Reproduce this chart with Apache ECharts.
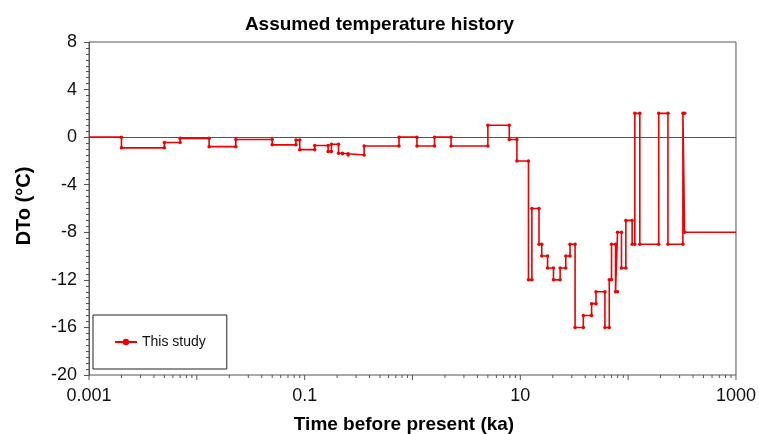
<!DOCTYPE html>
<html>
<head>
<meta charset="utf-8">
<script src="https://cdn.jsdelivr.net/npm/echarts@6/dist/echarts.min.js"></script>
<style>
html,body{margin:0;padding:0;background:#fff;}
#chart{width:759px;height:434px;}
</style>
</head>
<body>
<div id="chart"></div>
<script>
// ---- data ----
var startTime = 0.001;          // ka, left edge of the plotted history
var endTime = 1000;             // ka, right edge
var startValue = 0;             // DTo before the first step (°C)
// times (ka) at which the assumed temperature changes
var stepTimes = [0.002, 0.005, 0.007, 0.013, 0.023, 0.05, 0.083, 0.09, 0.124, 0.165,
                 0.177, 0.206, 0.224, 0.253, 0.356, 0.75, 1.1, 1.6, 2.28, 5.0,
                 7.9, 9.3, 11.9, 12.8, 14.9, 15.8, 17.9, 20.3, 23.4, 26.4,
                 28.9, 32.2, 38.4, 45.8, 50.3, 60.9, 66.8, 70.1, 76.4, 79.7,
                 86.7, 95.2, 108.9, 115.3, 128.3, 192, 234, 322, 334];
// DTo (°C) that applies after each step time
var stepValues = [-0.9, -0.45, -0.1, -0.8, -0.2, -0.65, -0.25, -1.05, -0.7, -1.2,
                  -0.6, -1.35, -1.4, -1.5, -0.75, 0, -0.75, 0, -0.75, 1.0,
                  -0.2, -2, -12, -6, -9, -10, -11, -12, -11, -10,
                  -9, -16, -15, -14, -13, -16, -12, -9, -13, -8,
                  -11, -7, -9, 2, -9, 2, -9, 2, -8];
var seriesName = 'This study';
var yTicks = {min: -20, max: 8, interval: 4};
var xRange = {min: 0.001, max: 1000};
var minorMultipliers = [2, 3, 4, 5, 6, 7, 8, 9];

// ---- build step points (both corners of every step) ----
var pts = [{value: [startTime, startValue], symbol: 'none'}];
var prev = startValue;
for (var i = 0; i < stepTimes.length; i++) {
  pts.push([stepTimes[i], prev]);
  pts.push([stepTimes[i], stepValues[i]]);
  prev = stepValues[i];
}
pts.push({value: [endTime, prev], symbol: 'none'});

// x tick positions (log decades and 2..9 multiples)
var xTickData = [];
for (var e = -3; e <= 3; e++) {
  var d = Math.pow(10, e);
  xTickData.push([d, yTicks.min, 1]);
  if (e < 3) minorMultipliers.forEach(function (m) { xTickData.push([m * d, yTicks.min, 0]); });
}

var FONT = '"Liberation Sans", Arial, sans-serif';
var AX = '#555';
var RED = '#ee0000';

var chart = echarts.init(document.getElementById('chart'), null, {renderer: 'canvas'});
chart.setOption({
  animation: false,
  backgroundColor: '#fff',
  title: {
    text: 'Assumed temperature history',
    left: 'center', top: 10,
    textStyle: {fontFamily: FONT, fontSize: 19, fontWeight: 'bold', color: '#000'}
  },
  grid: {left: 89, right: 21, top: 42, bottom: 59, show: true, borderColor: AX, borderWidth: 1},
  legend: {
    data: [seriesName],
    left: 93, top: 315,
    padding: [20, 21],
    borderColor: '#222', borderWidth: 1, borderRadius: 0,
    itemWidth: 22, itemHeight: 8, itemGap: 5,
    textStyle: {fontFamily: FONT, fontSize: 14, color: '#111'}
  },
  xAxis: {
    type: 'log', logBase: 10, min: xRange.min, max: xRange.max,
    splitNumber: 6,
    axisLine: {lineStyle: {color: AX, width: 1}},
    axisTick: {show: false},
    splitLine: {show: false},
    axisLabel: {
      fontFamily: FONT, fontSize: 18, color: '#111', margin: 12,
      formatter: function (v) {
        var ex = Math.round(Math.log10(v));
        if (Math.abs(ex) % 2 !== 1) return '';
        return ex < 0 ? Math.pow(10, ex).toFixed(-ex) : String(Math.pow(10, ex));
      }
    }
  },
  yAxis: {
    type: 'value', min: yTicks.min, max: yTicks.max, interval: yTicks.interval,
    axisLine: {show: true, lineStyle: {color: AX, width: 1}},
    axisTick: {show: true, length: 5, lineStyle: {color: AX}},
    minorTick: {show: true, splitNumber: 8, length: 3, lineStyle: {color: AX}},
    splitLine: {show: false},
    axisLabel: {fontFamily: FONT, fontSize: 18, color: '#111', margin: 12}
  },
  graphic: [
    {type: 'text', x: 404, y: 425, style: {text: 'Time before present (ka)', fontFamily: FONT, fontSize: 19, fontWeight: 'bold', fill: '#000', textAlign: 'center', textVerticalAlign: 'middle'}},
    {type: 'text', x: 24, y: 206, rotation: Math.PI / 2, style: {text: 'DTo (°C)', fontFamily: FONT, fontSize: 20, fontWeight: 'bold', fill: '#000', textAlign: 'center', textVerticalAlign: 'middle'}}
  ],
  series: [
    {
      name: seriesName,
      type: 'line',
      data: pts,
      symbol: 'circle', symbolSize: 3.5,
      showSymbol: true, showAllSymbol: true,
      lineStyle: {color: RED, width: 1.6},
      itemStyle: {color: RED},
      emphasis: {disabled: true}
    },
    {
      type: 'custom', name: 'xticks', silent: true, clip: false,
      data: xTickData,
      renderItem: function (params, api) {
        var p = api.coord([api.value(0), api.value(1)]);
        var len = api.value(2) ? 5 : 3;
        return {type: 'line', shape: {x1: p[0], y1: p[1], x2: p[0], y2: p[1] + len}, style: {stroke: AX, lineWidth: 1}};
      },
      z: 1
    }
  ]
});
</script>
</body>
</html>
